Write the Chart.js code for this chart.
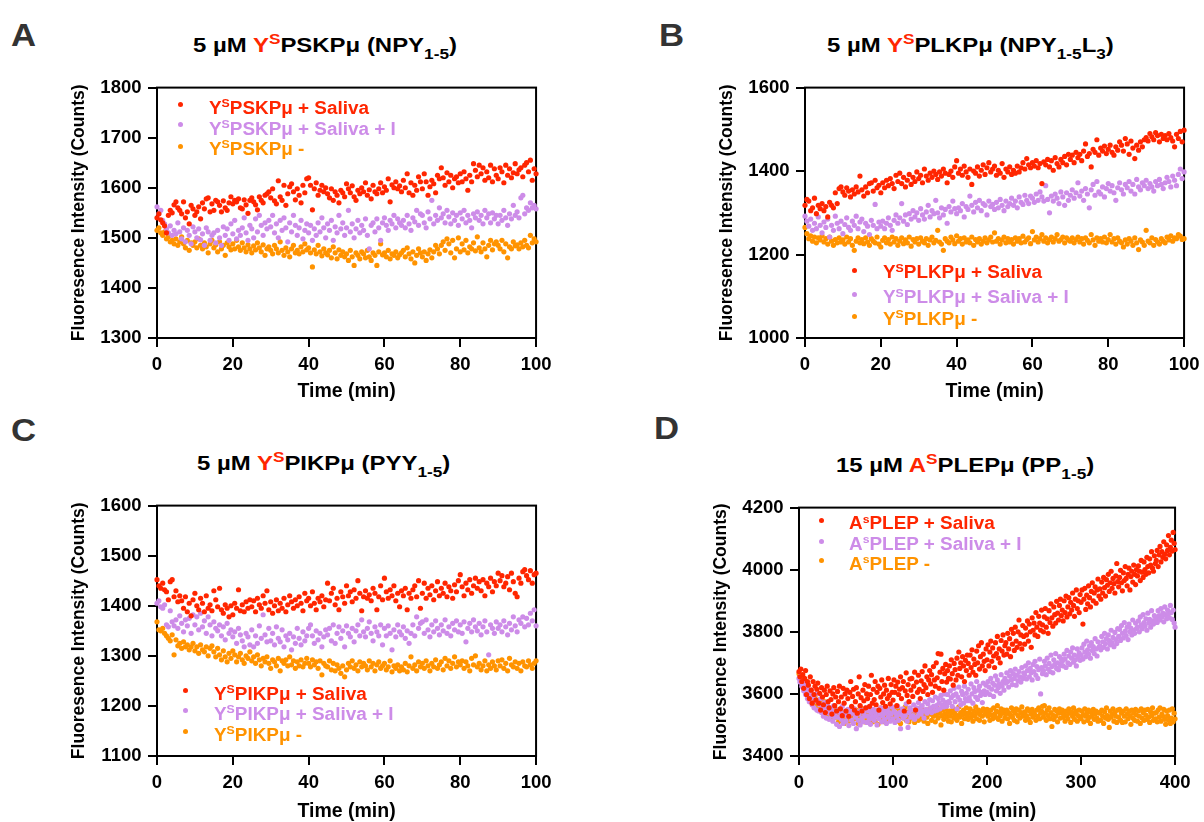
<!DOCTYPE html>
<html><head><meta charset="utf-8">
<script src="https://cdn.jsdelivr.net/npm/chart.js@4.4.0/dist/chart.umd.min.js"></script>
<style>
body{margin:0;background:#fff;width:1204px;height:822px;position:relative;overflow:hidden;font-family:'Liberation Sans',Arial,Helvetica,sans-serif;font-weight:bold;}
.abs{position:absolute;white-space:nowrap;transform-origin:0 0;}
.letter{font-size:31px;line-height:36px;color:#333;transform:scaleX(1.12);}
.title{font-size:21px;line-height:24px;color:#000;transform:scaleX(1.14);}
.title .r{color:#FF2600;}
.tsup{font-size:.72em;position:relative;top:-.5em;line-height:0;}
.tsub{font-size:.72em;position:relative;top:.47em;line-height:0;}
.leg{font-size:18px;line-height:22px;transform:scaleX(1.05);}
.leg sup{font-size:.65em;position:relative;top:-.56em;line-height:0;vertical-align:baseline;}
.dot{position:absolute;width:5px;height:5px;border-radius:50%;}
canvas{position:absolute;}
</style></head>
<body>
<canvas id="cA"></canvas><canvas id="cB"></canvas><canvas id="cC"></canvas><canvas id="cD"></canvas>

<div class="abs letter" style="left:11px;top:18px">A</div>
<div class="abs letter" style="left:659px;top:18px">B</div>
<div class="abs letter" style="left:11px;top:413px">C</div>
<div class="abs letter" style="left:654px;top:411px">D</div>

<div class="abs title" style="left:193px;top:33px">5 µM <span class="r">Y<span class="tsup">S</span></span>PSKPμ (NPY<span class="tsub">1-5</span>)</div>
<div class="abs title" style="left:827px;top:33px">5 µM <span class="r">Y<span class="tsup">S</span></span>PLKPμ (NPY<span class="tsub">1-5</span>L<span class="tsub">3</span>)</div>
<div class="abs title" style="left:197px;top:451px">5 µM <span class="r">Y<span class="tsup">S</span></span>PIKPμ (PYY<span class="tsub">1-5</span>)</div>
<div class="abs title" style="left:836px;top:452.5px">15 µM <span class="r">A<span class="tsup">S</span></span>PLEPμ (PP<span class="tsub">1-5</span>)</div>

<div id="legends"></div>

<script>
// ---------- sampling / ticks ----------
const stepAC = 0.5;   // minutes between reads (panels A-C)
const stepD = 1;      // minutes between reads (panel D)
const xTicksAC = [0,20,40,60,80,100];
const xTicksD = [0,100,200,300,400];
const yTicksA = [1300,1400,1500,1600,1700,1800];
const yTicksB = [1000,1200,1400,1600];
const yTicksC = [1100,1200,1300,1400,1500,1600];
const yTicksD = [3400,3600,3800,4000,4200];
const colors = ['#FF2600','#CD8CE8','#FF9300'];
const legendA = ['Y<sup>S</sup>PSKPμ + Saliva','Y<sup>S</sup>PSKPμ + Saliva + I','Y<sup>S</sup>PSKPμ -'];
const legendB = ['Y<sup>S</sup>PLKPμ + Saliva','Y<sup>S</sup>PLKPμ + Saliva + I','Y<sup>S</sup>PLKPμ -'];
const legendC = ['Y<sup>S</sup>PIKPμ + Saliva','Y<sup>S</sup>PIKPμ + Saliva + I','Y<sup>S</sup>PIKPμ -'];
const legendD = ['A<sup>s</sup>PLEP + Saliva','A<sup>s</sup>PLEP + Saliva + I','A<sup>s</sup>PLEP -'];

// ---------- Panel A ----------
const salivaA = [1540,1548,1536,1530,1524,1510,1545,1555,1550,1566,
1572,1560,1555,1548,1572,1540,1552,1528,1565,1558,
1545,1552,1562,1538,1570,1558,1578,1580,1552,1568,
1555,1575,1572,1565,1552,1574,1560,1555,1570,1582,
1568,1575,1572,1578,1560,1558,1576,1566,1549,1575,
1580,1572,1566,1556,1582,1575,1570,1585,1588,1592,
1580,1598,1574,1568,1614,1582,1575,1605,1565,1588,
1602,1608,1592,1576,1598,1585,1570,1605,1590,1618,
1620,1605,1556,1598,1610,1585,1595,1605,1592,1600,
1588,1580,1598,1575,1592,1585,1570,1595,1590,1582,
1608,1598,1590,1604,1582,1575,1595,1588,1600,1592,
1610,1585,1596,1578,1605,1592,1588,1598,1610,1590,
1602,1595,1618,1572,1606,1600,1612,1598,1604,1592,
1615,1600,1628,1590,1610,1585,1605,1595,1622,1612,
1598,1628,1612,1585,1602,1615,1608,1590,1625,1618,
1640,1620,1605,1630,1612,1625,1600,1618,1622,1610,
1628,1612,1632,1618,1595,1625,1612,1648,1635,1622,
1645,1628,1640,1615,1632,1620,1645,1612,1638,1625,
1618,1640,1632,1610,1645,1625,1638,1620,1630,1648,
1628,1636,1640,1622,1645,1650,1632,1655,1615,1638,
1628];
const salivaInhA = [1562,1548,1555,1535,1528,1518,1510,1524,1505,1515,
1508,1530,1512,1498,1520,1492,1515,1505,1488,1522,
1512,1500,1518,1496,1508,1485,1520,1512,1495,1505,
1510,1490,1515,1500,1485,1522,1505,1518,1495,1528,
1508,1535,1498,1515,1505,1520,1540,1510,1495,1525,
1518,1500,1538,1512,1545,1525,1505,1530,1518,1535,
1522,1545,1510,1528,1500,1535,1515,1540,1520,1492,
1530,1512,1545,1525,1505,1520,1535,1498,1515,1528,
1510,1525,1495,1518,1505,1530,1512,1540,1520,1500,
1528,1515,1535,1495,1522,1510,1545,1518,1530,1505,
1520,1555,1512,1528,1500,1518,1535,1510,1525,1515,
1538,1505,1478,1525,1530,1512,1538,1520,1495,1530,
1540,1525,1515,1535,1528,1545,1520,1538,1530,1525,
1535,1520,1545,1528,1515,1540,1532,1555,1525,1548,
1545,1530,1520,1552,1538,1575,1528,1545,1535,1560,
1540,1548,1530,1555,1542,1528,1550,1535,1545,1525,
1550,1538,1555,1530,1545,1535,1520,1548,1540,1552,
1535,1545,1528,1555,1540,1548,1530,1550,1538,1545,
1528,1545,1535,1555,1540,1525,1548,1538,1565,1545,
1552,1540,1580,1585,1548,1560,1555,1570,1560,1565,
1558];
const controlA = [1515,1520,1510,1505,1512,1498,1502,1492,1495,1488,
1498,1485,1492,1502,1488,1480,1495,1475,1490,1485,
1492,1480,1498,1485,1478,1490,1482,1470,1488,1495,
1480,1486,1472,1492,1478,1485,1465,1490,1482,1476,
1488,1478,1495,1482,1475,1490,1480,1472,1486,1478,
1470,1484,1476,1490,1480,1472,1486,1465,1478,1482,
1475,1468,1485,1478,1470,1492,1475,1465,1480,1472,
1462,1478,1485,1470,1475,1468,1482,1472,1488,1476,
1480,1470,1442,1476,1468,1485,1472,1464,1478,1470,
1466,1475,1460,1482,1470,1458,1476,1465,1472,1462,
1468,1455,1475,1462,1445,1470,1465,1458,1472,1468,
1460,1475,1462,1455,1470,1465,1445,1472,1488,1466,
1470,1462,1475,1458,1468,1465,1472,1460,1466,1470,
1475,1462,1480,1468,1458,1472,1450,1465,1478,1470,
1462,1472,1455,1468,1476,1460,1472,1485,1478,1468,
1485,1492,1475,1498,1488,1470,1495,1460,1478,1500,
1472,1488,1476,1495,1470,1482,1478,1490,1474,1502,
1480,1472,1490,1478,1462,1485,1495,1476,1488,1492,
1485,1478,1495,1472,1488,1460,1482,1478,1492,1484,
1486,1478,1490,1482,1495,1485,1480,1505,1490,1498,
1492];

// ---------- Panel B ----------
const salivaB = [1318,1332,1328,1305,1312,1335,1298,1318,1310,1322,
1305,1315,1290,1325,1318,1312,1348,1322,1358,1362,
1350,1342,1360,1352,1338,1355,1345,1362,1350,1388,
1355,1340,1362,1348,1370,1372,1352,1378,1360,1366,
1348,1372,1360,1378,1365,1382,1370,1358,1390,1375,
1395,1370,1385,1362,1378,1392,1368,1385,1375,1398,
1382,1390,1372,1405,1388,1378,1395,1385,1400,1392,
1380,1398,1388,1405,1395,1372,1392,1400,1385,1410,
1425,1395,1405,1390,1412,1398,1385,1405,1368,1400,
1395,1410,1388,1402,1415,1392,1408,1420,1398,1405,
1412,1390,1402,1395,1418,1385,1405,1398,1410,1392,
1402,1395,1412,1398,1408,1420,1405,1430,1415,1408,
1420,1412,1425,1408,1418,1370,1422,1415,1428,1410,
1425,1402,1432,1418,1410,1428,1420,1435,1415,1440,
1428,1438,1420,1445,1432,1440,1425,1448,1465,1435,
1442,1410,1452,1445,1475,1438,1455,1448,1460,1442,
1452,1462,1445,1438,1458,1450,1470,1462,1448,1478,
1465,1440,1472,1455,1430,1462,1450,1470,1458,1475,
1480,1472,1490,1482,1475,1492,1485,1470,1488,1478,
1485,1475,1490,1480,1472,1458,1488,1478,1495,1470,
1498];
const salivaInhB = [1292,1280,1268,1285,1258,1275,1262,1290,1270,1252,
1278,1265,1285,1242,1270,1258,1292,1275,1262,1280,
1250,1272,1288,1265,1258,1280,1270,1292,1262,1278,
1285,1255,1275,1268,1248,1282,1270,1320,1262,1278,
1268,1280,1262,1275,1288,1270,1258,1282,1295,1275,
1288,1322,1280,1295,1272,1298,1285,1305,1290,1300,
1282,1310,1295,1285,1302,1318,1290,1305,1298,1330,
1300,1288,1312,1295,1308,1275,1315,1302,1328,1310,
1298,1312,1305,1322,1290,1315,1308,1340,1318,1302,
1325,1312,1330,1305,1322,1318,1295,1328,1315,1320,
1308,1325,1312,1332,1318,1305,1328,1315,1322,1335,
1318,1328,1312,1338,1325,1320,1342,1330,1322,1340,
1335,1325,1345,1330,1350,1338,1328,1365,1332,1300,
1340,1328,1345,1335,1322,1350,1338,1318,1348,1330,
1342,1355,1335,1348,1372,1340,1352,1330,1358,1345,
1312,1355,1368,1342,1375,1350,1345,1362,1338,1358,
1370,1352,1365,1348,1330,1360,1372,1355,1345,1368,
1360,1375,1352,1368,1345,1380,1362,1355,1372,1365,
1378,1358,1370,1362,1352,1375,1365,1380,1368,1358,
1372,1385,1375,1362,1388,1378,1365,1392,1405,1382,
1398];
const controlB = [1265,1250,1238,1245,1232,1242,1228,1240,1235,1245,
1230,1238,1225,1242,1232,1222,1236,1228,1240,1230,
1235,1225,1242,1230,1238,1222,1210,1232,1240,1228,
1236,1226,1240,1230,1222,1238,1232,1228,1242,1225,
1218,1234,1240,1228,1236,1225,1242,1230,1238,1222,
1232,1240,1226,1235,1228,1242,1220,1236,1230,1238,
1225,1240,1232,1228,1238,1222,1235,1242,1228,1234,
1258,1230,1225,1210,1238,1232,1228,1242,1235,1226,
1245,1232,1238,1225,1240,1230,1235,1228,1242,1222,
1236,1230,1238,1225,1232,1240,1228,1235,1242,1230,
1252,1232,1238,1225,1235,1242,1228,1238,1230,1236,
1225,1240,1232,1238,1228,1244,1230,1236,1240,1226,
1255,1235,1242,1230,1238,1248,1232,1240,1228,1236,
1242,1230,1238,1248,1232,1236,1242,1228,1240,1235,
1232,1240,1228,1236,1242,1230,1238,1225,1240,1234,
1228,1248,1235,1222,1240,1232,1238,1230,1242,1228,
1236,1248,1230,1238,1225,1240,1232,1228,1218,1235,
1225,1238,1232,1222,1240,1228,1212,1235,1230,1222,
1258,1232,1228,1240,1222,1236,1230,1225,1238,1232,
1228,1242,1235,1245,1232,1240,1238,1248,1244,1236,
1238];

// ---------- Panel C ----------
const salivaC = [1452,1440,1435,1445,1432,1428,1412,1448,1452,1418,
1430,1408,1420,1410,1395,1418,1388,1405,1380,1412,
1425,1400,1392,1415,1405,1388,1420,1395,1402,1390,
1430,1412,1398,1435,1392,1385,1402,1395,1378,1400,
1382,1405,1395,1432,1390,1402,1388,1408,1395,1412,
1398,1410,1388,1415,1402,1395,1420,1405,1430,1392,
1408,1385,1400,1412,1390,1405,1395,1415,1388,1402,
1420,1408,1395,1412,1400,1418,1405,1390,1425,1410,
1415,1400,1428,1405,1392,1415,1408,1420,1398,1412,
1445,1410,1425,1435,1402,1415,1392,1428,1418,1405,
1440,1420,1428,1408,1432,1415,1450,1425,1390,1418,
1430,1415,1422,1410,1435,1425,1392,1418,1440,1412,
1455,1428,1415,1432,1420,1440,1410,1425,1398,1430,
1420,1435,1392,1425,1415,1432,1440,1418,1450,1395,
1425,1445,1415,1435,1422,1440,1412,1430,1448,1420,
1435,1425,1445,1418,1438,1430,1415,1442,1428,1450,
1462,1438,1420,1445,1432,1452,1425,1440,1455,1435,
1448,1430,1452,1420,1445,1438,1455,1428,1448,1440,
1465,1450,1460,1438,1445,1458,1432,1465,1448,1425,
1418,1455,1445,1468,1472,1460,1452,1470,1445,1462,
1465];
const salivaInhC = [1405,1410,1398,1395,1402,1362,1358,1390,1368,1360,
1372,1355,1380,1365,1348,1372,1360,1375,1345,1382,
1362,1378,1352,1385,1358,1370,1345,1378,1362,1340,
1368,1355,1350,1362,1340,1358,1332,1365,1345,1352,
1338,1348,1325,1355,1342,1330,1318,1345,1338,1322,
1352,1318,1340,1325,1360,1335,1382,1342,1328,1355,
1330,1345,1322,1358,1335,1328,1352,1318,1340,1332,
1345,1312,1338,1325,1355,1335,1322,1348,1330,1340,
1355,1362,1340,1325,1350,1332,1345,1318,1338,1352,
1342,1355,1330,1362,1325,1345,1358,1335,1350,1318,
1360,1345,1338,1355,1328,1350,1362,1340,1372,1348,
1338,1355,1368,1345,1330,1358,1348,1340,1362,1322,
1355,1340,1360,1345,1312,1352,1338,1362,1348,1342,
1358,1335,1350,1325,1345,1362,1340,1378,1355,1365,
1368,1345,1372,1352,1338,1362,1348,1370,1355,1342,
1362,1350,1372,1345,1358,1340,1365,1352,1370,1348,
1362,1345,1368,1328,1355,1365,1348,1372,1358,1350,
1365,1342,1358,1370,1348,1302,1362,1355,1345,1368,
1355,1362,1348,1370,1358,1342,1365,1352,1378,1360,
1348,1372,1365,1378,1358,1375,1362,1385,1370,1392,
1360];
const controlC = [1368,1352,1350,1355,1345,1340,1335,1330,1342,1302,
1332,1320,1325,1315,1328,1318,1322,1312,1318,1325,
1310,1318,1305,1322,1312,1308,1318,1300,1315,1320,
1308,1298,1315,1302,1292,1310,1298,1288,1305,1295,
1310,1302,1288,1298,1305,1292,1285,1300,1295,1308,
1290,1298,1285,1302,1292,1280,1295,1288,1298,1285,
1275,1292,1288,1280,1295,1270,1290,1285,1292,1280,
1298,1282,1290,1275,1288,1280,1292,1278,1285,1295,
1285,1278,1292,1282,1288,1275,1290,1262,1285,1280,
1278,1290,1272,1285,1270,1282,1275,1265,1280,1258,
1272,1285,1278,1290,1275,1282,1270,1288,1278,1285,
1280,1272,1290,1278,1285,1270,1282,1288,1275,1280,
1285,1272,1278,1290,1268,1280,1275,1282,1270,1278,
1272,1285,1268,1280,1298,1275,1282,1270,1288,1278,
1285,1275,1290,1280,1270,1285,1278,1292,1275,1282,
1288,1272,1295,1280,1290,1275,1285,1298,1278,1288,
1282,1290,1275,1288,1280,1270,1295,1282,1300,1278,
1285,1272,1280,1290,1270,1282,1275,1288,1280,1272,
1290,1280,1292,1275,1285,1270,1295,1282,1278,1288,
1275,1285,1270,1288,1280,1278,1290,1282,1275,1285,
1290];

// ---------- Panel D ----------
const salivaD = [3672,3655,3680,3640,3662,3618,3650,3675,3598,3640,3628,3585,3655,3612,3570,3640,3598,3625,3580,3615,
3635,3570,3602,3548,3620,3590,3565,3612,3540,3598,3625,3575,3555,3610,3582,3535,3600,3620,3562,3590,
3545,3608,3575,3625,3552,3590,3530,3618,3570,3600,3545,3612,3585,3528,3605,3640,3560,3592,3615,3548,
3575,3620,3538,3600,3655,3562,3588,3545,3612,3578,3630,3555,3600,3585,3625,3560,3598,3660,3570,3615,
3582,3640,3565,3605,3625,3548,3618,3590,3645,3572,3600,3628,3560,3612,3585,3650,3595,3568,3630,3605,
3580,3645,3605,3625,3562,3638,3598,3615,3655,3585,3620,3640,3545,3610,3668,3595,3630,3575,3648,3612,
3650,3592,3625,3670,3548,3638,3605,3660,3615,3585,3642,3672,3608,3630,3690,3620,3655,3598,3645,3675,
3632,3662,3605,3688,3645,3625,3700,3652,3730,3618,3670,3728,3640,3682,3612,3665,3695,3638,3675,3650,
3690,3648,3710,3665,3628,3698,3678,3645,3715,3660,3735,3682,3700,3655,3720,3690,3640,3708,3675,3725,
3698,3660,3725,3685,3742,3670,3712,3695,3660,3738,3700,3755,3680,3720,3765,3690,3728,3705,3675,3745,
3710,3758,3690,3735,3770,3705,3748,3722,3685,3765,3730,3785,3715,3745,3700,3772,3738,3790,3725,3755,
3765,3728,3795,3745,3778,3720,3808,3760,3795,3740,3815,3770,3750,3800,3838,3762,3790,3745,3820,3785,
3760,3812,3790,3835,3770,3825,3800,3750,3845,3805,3828,3790,3862,3815,3785,3850,3828,3805,3870,3822,
3800,3848,3875,3815,3842,3795,3868,3830,3890,3845,3818,3880,3855,3828,3898,3860,3838,3885,3905,3852,
3870,3835,3900,3862,3915,3848,3880,3910,3858,3895,3870,3925,3885,3850,3905,3935,3875,3900,3862,3920,
3895,3935,3825,3905,3940,3872,3918,3890,3948,3910,3880,3930,3958,3900,3925,3945,3892,3935,3970,3915,
3938,3905,3960,3925,3975,3942,3915,3968,3950,3985,3930,3958,3995,3940,3972,3955,3925,3980,4020,3962,
3945,3975,3998,3958,3932,3990,3965,4010,3972,3948,3985,4005,3935,3978,3995,3960,4015,3985,3952,4000,
3980,4012,3995,3965,4030,3992,3975,4025,4000,3985,4040,4010,3990,4035,4015,4058,4005,3995,4045,4020,
4030,4062,4010,4048,4075,4025,4058,4040,4090,4050,4035,4080,4062,4110,4048,4072,4095,4060,4120,4085,
4065];
const salivaInhD = [3650,3638,3660,3625,3642,3610,3630,3598,3620,3585,3608,3575,3595,3612,3565,3588,3555,3578,3600,3548,
3575,3545,3565,3585,3540,3560,3528,3572,3550,3522,3565,3540,3518,3555,3530,3548,3512,3562,3525,3540,
3502,3548,3525,3495,3540,3518,3560,3505,3535,3545,3512,3528,3550,3498,3532,3545,3515,3538,3505,3552,
3525,3488,3542,3515,3535,3500,3548,3522,3510,3540,3530,3555,3508,3528,3545,3518,3502,3538,3525,3550,
3515,3540,3528,3500,3548,3520,3535,3555,3510,3530,3545,3518,3538,3505,3552,3525,3540,3512,3535,3558,
3520,3545,3508,3538,3528,3560,3515,3540,3488,3532,3552,3522,3545,3530,3568,3512,3492,3540,3555,3525,
3548,3530,3565,3518,3545,3555,3528,3572,3540,3555,3535,3562,3545,3522,3575,3550,3538,3568,3545,3582,
3555,3540,3578,3560,3545,3590,3562,3548,3585,3570,3552,3595,3565,3580,3558,3600,3572,3560,3598,3575,
3572,3610,3588,3560,3595,3618,3575,3600,3552,3590,3622,3580,3565,3608,3598,3570,3625,3585,3602,3578,
3615,3588,3578,3632,3600,3570,3620,3608,3590,3640,3582,3612,3625,3595,3605,3572,3635,3610,3598,3628,
3605,3640,3622,3598,3650,3615,3635,3592,3628,3658,3610,3645,3620,3632,3602,3662,3625,3640,3612,3650,
3635,3668,3640,3622,3658,3675,3645,3630,3665,3650,3680,3628,3660,3642,3672,3655,3638,3685,3650,3668,
3662,3690,3648,3675,3700,3655,3682,3668,3645,3695,3672,3705,3660,3688,3650,3678,3712,3600,3685,3665,
3675,3705,3690,3662,3715,3680,3698,3672,3725,3688,3668,3710,3695,3730,3682,3700,3678,3720,3692,3712,
3705,3690,3728,3712,3685,3740,3700,3722,3695,3735,3715,3748,3702,3725,3710,3690,3745,3720,3732,3708,
3725,3748,3712,3760,3735,3720,3770,3742,3728,3755,3715,3765,3740,3752,3730,3778,3745,3722,3768,3750,
3755,3742,3785,3768,3750,3795,3762,3778,3745,3790,3772,3758,3805,3765,3782,3752,3798,3775,3762,3810,
3785,3808,3772,3820,3795,3780,3830,3802,3788,3815,3775,3825,3800,3812,3790,3838,3805,3795,3828,3810,
3815,3835,3800,3848,3822,3810,3855,3830,3818,3842,3805,3860,3828,3840,3815,3868,3835,3825,3852,3838,
3845,3830,3868,3852,3838,3875,3848,3860,3832,3880,3855,3842,3870,3858,3845,3885,3862,3840,3870,3828,
3815];
const controlD = [3665,3650,3640,3655,3628,3618,3635,3605,3622,3598,3612,3590,3605,3575,3595,3582,3568,3590,3560,3578,
3565,3580,3550,3572,3545,3562,3538,3575,3548,3530,3560,3542,3525,3555,3538,3548,3520,3545,3532,3550,
3525,3545,3510,3538,3552,3518,3540,3528,3505,3542,3535,3520,3548,3512,3530,3545,3515,3538,3525,3550,
3520,3548,3530,3505,3542,3525,3555,3515,3538,3528,3510,3545,3532,3518,3552,3522,3540,3508,3535,3548,
3528,3512,3545,3535,3502,3540,3525,3555,3518,3532,3548,3510,3538,3525,3545,3515,3530,3552,3520,3535,
3540,3518,3530,3555,3512,3538,3525,3548,3505,3535,3545,3522,3532,3558,3515,3540,3528,3510,3548,3530,
3522,3545,3535,3508,3550,3528,3540,3515,3532,3555,3520,3538,3548,3512,3530,3545,3525,3505,3540,3552,
3535,3515,3548,3528,3540,3510,3532,3555,3522,3538,3545,3500,3530,3548,3518,3535,3552,3525,3540,3512,
3545,3528,3510,3538,3552,3522,3535,3548,3515,3530,3558,3525,3540,3505,3532,3548,3520,3538,3555,3528,
3518,3540,3552,3525,3535,3512,3545,3530,3558,3520,3538,3548,3515,3532,3545,3528,3552,3510,3535,3542,
3550,3528,3538,3515,3548,3532,3520,3555,3535,3525,3545,3562,3518,3540,3530,3552,3512,3538,3548,3522,
3535,3548,3520,3540,3505,3532,3555,3525,3545,3515,3538,3552,3510,3530,3548,3522,3540,3558,3528,3535,
3542,3515,3530,3552,3520,3545,3508,3535,3550,3525,3540,3532,3515,3548,3528,3555,3520,3538,3545,3560,
3525,3562,3538,3515,3548,3530,3555,3520,3540,3495,3532,3518,3550,3528,3545,3510,3538,3552,3522,3540,
3548,3525,3535,3512,3545,3530,3520,3552,3538,3508,3542,3528,3555,3518,3535,3545,3512,3530,3548,3525,
3520,3545,3532,3510,3552,3528,3538,3515,3548,3525,3505,3540,3530,3550,3518,3535,3545,3522,3512,3540,
3538,3515,3548,3528,3505,3542,3522,3555,3530,3518,3492,3545,3525,3535,3552,3512,3540,3528,3508,3548,
3525,3550,3515,3538,3508,3545,3528,3510,3552,3535,3520,3545,3530,3502,3548,3522,3538,3515,3550,3532,
3512,3545,3528,3505,3552,3522,3540,3515,3548,3532,3518,3550,3525,3508,3542,3530,3555,3515,3538,3520,
3540,3510,3548,3525,3555,3512,3535,3528,3550,3518,3502,3545,3530,3515,3548,3505,3522,3552,3510,3538,
3520];

// ---------- drawing ----------
const FONT = "'Liberation Sans', Arial, Helvetica, sans-serif";
Chart.defaults.font.family = FONT;

const framePlugin = {
  id: 'frame',
  beforeDatasetsDraw(chart) {
    const a = chart.chartArea, ctx = chart.ctx;
    ctx.save(); ctx.strokeStyle = '#000'; ctx.lineWidth = 2;
    ctx.strokeRect(a.left, a.top, a.right - a.left, a.bottom - a.top);
    ctx.restore();
  }
};

function buildPanel(id, box, step, seriesList, xTicks, yTicks, xTitlePad) {
  const cv = document.getElementById(id);
  const W = box.R - box.L + 120, H = box.B - box.T + 90;
  cv.width = W; cv.height = H;
  cv.style.left = (box.L - 100) + 'px'; cv.style.top = (box.T - 15) + 'px';
  cv.style.width = W + 'px'; cv.style.height = H + 'px';
  const tickFont = {family: FONT, size: 18.5, weight: 'bold'};
  const gridCfg = {display: true, drawOnChartArea: false, drawTicks: true, tickLength: 9, color: '#000', lineWidth: 2};
  const plain = v => String(v);
  return new Chart(cv, {
    type: 'scatter',
    data: {datasets: seriesList.map((vals, k) => ({
      data: vals.map((v, i) => ({x: i * step, y: v})),
      backgroundColor: colors[k], borderColor: colors[k], borderWidth: 0,
      pointRadius: 2.6, pointHoverRadius: 2.6, clip: false
    }))},
    options: {
      responsive: false, animation: false, devicePixelRatio: 1, events: [],
      layout: {padding: {top: 15, right: 20, bottom: 0, left: 0}},
      plugins: {legend: {display: false}, tooltip: {enabled: false}},
      scales: {
        x: {type: 'linear', min: xTicks[0], max: xTicks[xTicks.length - 1],
          afterBuildTicks: s => { s.ticks = xTicks.map(v => ({value: v})); },
          afterFit: s => { s.height = 75; },
          grid: gridCfg, border: {display: true, color: '#000', width: 2},
          ticks: {color: '#000', font: tickFont, padding: 6.5, maxRotation: 0, autoSkip: false, callback: plain},
          title: {display: true, text: 'Time (min)', color: '#000', font: {family: FONT, size: 19.5, weight: 'bold'}, padding: {top: 0, bottom: xTitlePad}}},
        y: {type: 'linear', min: yTicks[0], max: yTicks[yTicks.length - 1],
          afterBuildTicks: s => { s.ticks = yTicks.map(v => ({value: v})); },
          afterFit: s => { s.width = 100; },
          grid: gridCfg, border: {display: true, color: '#000', width: 2},
          ticks: {color: '#000', font: tickFont, padding: 6.5, autoSkip: false, callback: plain},
          title: {display: true, text: 'Fluoresence Intensity (Counts)', color: '#000', font: {family: FONT, size: 17.5, weight: 'bold'}, padding: {top: 12, bottom: 0}}}
      }
    },
    plugins: [framePlugin]
  });
}

buildPanel('cA', {L:157, R:538, T:85, B:338}, stepAC, [salivaA, salivaInhA, controlA], xTicksAC, yTicksA, 9.4);
buildPanel('cB', {L:805, R:1186, T:85, B:338}, stepAC, [salivaB, salivaInhB, controlB], xTicksAC, yTicksB, 9.4);
buildPanel('cC', {L:157, R:538, T:503, B:756}, stepAC, [salivaC, salivaInhC, controlC], xTicksAC, yTicksC, 7.9);
buildPanel('cD', {L:799, R:1177, T:505, B:756}, stepD, [salivaD, salivaInhD, controlD], xTicksD, yTicksD, 7.9);

// ---------- legends (HTML, for super/subscripts) ----------
function addLegend(labels, dotX, dotYs, textX, capCenters) {
  const host = document.getElementById('legends');
  labels.forEach((lab, k) => {
    const d = document.createElement('div');
    d.className = 'dot';
    d.style.left = (dotX - 2.5) + 'px'; d.style.top = (dotYs[k] - 2.5) + 'px';
    d.style.background = colors[k];
    host.appendChild(d);
    const t = document.createElement('div');
    t.className = 'abs leg';
    t.style.left = textX + 'px'; t.style.top = (capCenters[k] - 10.8) + 'px';
    t.style.color = colors[k];
    t.innerHTML = lab;
    host.appendChild(t);
  });
}
addLegend(legendA, 180, [104, 124.3, 146.7], 209, [107.7, 128.3, 148.3]);
addLegend(legendB, 854, [270, 294.3, 316], 883, [272.2, 297.2, 318.8]);
addLegend(legendC, 185, [690, 710, 731.7], 214, [693.3, 713.3, 734.5]);
addLegend(legendD, 821, [520.7, 541.7, 560.7], 849, [523, 543.7, 563.3]);
</script>
</body></html>
